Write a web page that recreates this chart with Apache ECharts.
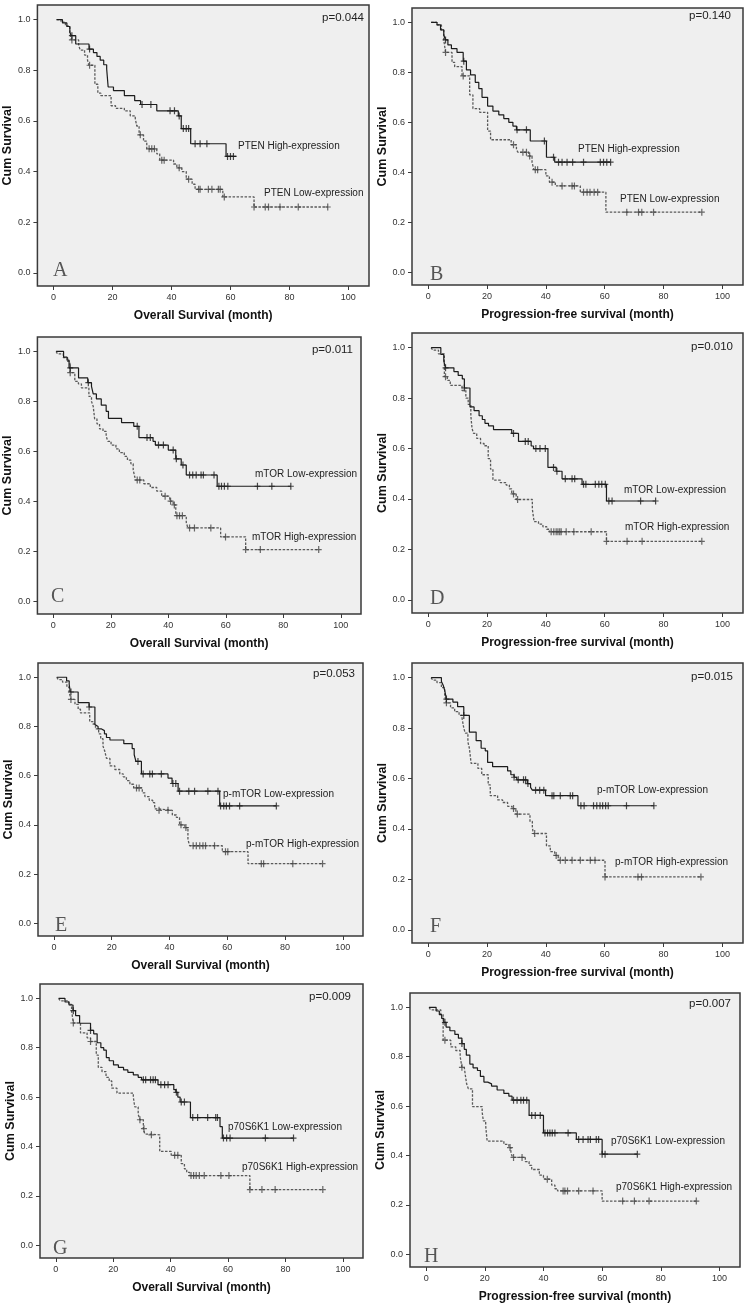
<!DOCTYPE html>
<html><head><meta charset="utf-8">
<script src="https://cdn.jsdelivr.net/npm/echarts@6/dist/echarts.min.js"></script>
<style>html,body{margin:0;padding:0;background:#fff}#c{width:750px;height:1309px}</style>
</head><body><div id="c"></div>
<script>
// ---- tick values ----
const xTicks = [0, 20, 40, 60, 80, 100];
const yTicks = [0, 0.2, 0.4, 0.6, 0.8, 1.0];

// ---- Panel A: PTEN, overall survival ----
const A_high = [[1,1],[3,0.987],[4.5,0.973],[5.5,0.95],[6,0.937],[7.5,0.904],[12,0.884],[13.5,0.87],[14.7,0.855],[15.8,0.84],[17,0.822],[18,0.805],[18.5,0.734],[20.3,0.72],[24,0.70],[27.5,0.68],[29.5,0.665],[35,0.64],[42.3,0.62],[43.3,0.57],[46.5,0.51],[58.5,0.46],[62,0.46]];
const A_highC = [6.2,12.2,30,33,39.5,41,42.6,44,45,45.8,48,49.7,52,59,60,61];
const A_low = [[1,1],[2.5,0.99],[4,0.975],[5.5,0.95],[6,0.92],[8.5,0.90],[9,0.88],[10.5,0.86],[11.5,0.84],[12,0.82],[14,0.745],[15,0.71],[16,0.70],[19.5,0.66],[21,0.65],[24,0.64],[26,0.62],[27.7,0.61],[28.2,0.58],[29,0.545],[30.5,0.52],[31.6,0.49],[35,0.47],[36,0.445],[40.7,0.43],[41.8,0.415],[43.5,0.40],[45,0.37],[47,0.35],[48,0.33],[57.4,0.30],[68,0.26],[93,0.26]];
const A_lowC = [6.2,12.2,29.4,32.4,33.3,34.2,36.7,37.5,42.6,45.8,49.2,49.7,52.5,53.7,55.9,56.5,57.9,68,71.8,72.9,76.8,83,93];

// ---- Panel B: PTEN, progression-free survival ----
const B_high = [[1,1],[3,0.99],[4.2,0.97],[5.3,0.95],[5.9,0.93],[6.7,0.91],[7.9,0.895],[9.8,0.88],[11.9,0.845],[13,0.81],[14.4,0.79],[16,0.76],[17.2,0.735],[18.3,0.70],[20.2,0.665],[22,0.645],[24,0.63],[25.7,0.615],[27.4,0.60],[28.8,0.585],[30,0.57],[34.7,0.525],[40.2,0.46],[43,0.44],[62,0.44]];
const B_highC = [5.9,12.1,30.2,33.4,39.5,42.6,44.3,45.5,47.2,49.1,52.8,58.5,59.6,60.7,62];
const B_low = [[1,1],[3,0.99],[4.5,0.97],[5.3,0.93],[5.9,0.88],[8.1,0.84],[9,0.823],[11.5,0.786],[14.1,0.71],[15.2,0.655],[17.5,0.64],[20.2,0.565],[21.2,0.53],[28.2,0.51],[30,0.49],[30.5,0.48],[34.2,0.465],[35.3,0.44],[35.9,0.41],[40,0.385],[41.2,0.36],[43.2,0.345],[51.7,0.32],[60.4,0.24],[93,0.24]];
const B_lowC = [5.9,11.9,29,32.2,33.4,34.5,36.4,37.2,42.1,45.5,48.9,49.7,52.8,54,55,56.4,57.6,67.5,71.5,72.6,76.6,93];

// ---- Panel C: mTOR, overall survival ----
const C_low = [[1,1],[3.6,0.977],[4.8,0.965],[5.5,0.934],[8.8,0.894],[12,0.875],[13.3,0.86],[13.9,0.83],[15,0.81],[16.7,0.785],[18.4,0.76],[19.2,0.732],[23.75,0.715],[28,0.70],[29.8,0.655],[34.7,0.64],[35.5,0.625],[40,0.605],[42.6,0.57],[44.5,0.545],[46.25,0.505],[57,0.46],[82.6,0.46]];
const C_lowC = [5.9,12.2,29.2,32.6,33.75,36.6,38.3,41.7,42.8,45.1,47.4,48.5,49.7,51.4,52.2,55.9,57.6,58.5,59.5,60.7,71,76,82.6];
const C_high = [[1,1],[1.5,0.99],[3.5,0.975],[5,0.96],[5.8,0.915],[7.5,0.88],[8.75,0.87],[9.8,0.854],[12.4,0.82],[13.3,0.80],[13.9,0.78],[14.4,0.73],[15.2,0.71],[16.1,0.69],[17.3,0.68],[18.4,0.66],[19,0.64],[20.1,0.625],[21.8,0.61],[23,0.595],[24.7,0.58],[25.8,0.565],[27,0.55],[27.8,0.525],[28.3,0.50],[28.6,0.485],[31.5,0.47],[33.75,0.455],[36,0.44],[37.7,0.42],[40.5,0.40],[41.7,0.385],[42.6,0.342],[46.25,0.315],[46.8,0.293],[58.2,0.257],[66.9,0.206],[92.3,0.206]];
const C_highC = [5.9,29.2,30.1,38.9,40.8,42.1,43,43.9,44.9,47.4,49.1,54.8,59.9,66.9,72,92.3];

// ---- Panel D: mTOR, progression-free survival ----
const D_low = [[1,1],[4.3,0.973],[5.3,0.947],[5.9,0.92],[8.75,0.905],[10.2,0.89],[11.6,0.876],[12.3,0.84],[14.2,0.765],[15.6,0.75],[17.3,0.73],[18.4,0.715],[19.3,0.70],[20.5,0.69],[22.2,0.675],[28.4,0.66],[30.7,0.628],[35,0.61],[35.8,0.60],[40.7,0.525],[43.5,0.51],[45.5,0.48],[52.3,0.458],[60.6,0.392],[77.3,0.392]];
const D_lowC = [5.9,12.3,29,33,34,36.6,38,39.8,42.6,43.75,46.6,48.9,49.8,52.8,53.6,56.8,58,59,60.2,61.4,62.5,72.2,77.3];
const D_high = [[1,1],[1.5,0.99],[3.5,0.975],[5.5,0.885],[6.5,0.87],[7.5,0.85],[11.5,0.83],[12.8,0.80],[13.6,0.775],[14.5,0.73],[14.9,0.68],[15.4,0.66],[16.5,0.64],[17.8,0.62],[19,0.611],[20.4,0.56],[21.2,0.518],[22,0.475],[24.5,0.465],[26.5,0.455],[27.6,0.44],[28.4,0.42],[29.9,0.398],[35.4,0.36],[36,0.31],[37.5,0.30],[39,0.29],[40.3,0.28],[41.2,0.27],[60.6,0.232],[93,0.232]];
const D_highC = [5.9,29,30.4,41.8,42.7,43.5,44.1,44.7,45.2,46.9,49.5,55.4,60.6,67.6,72.7,93];

// ---- Panel E: p-mTOR, overall survival ----
const E_low = [[1,1],[4.4,0.985],[5.3,0.97],[5.7,0.94],[8.4,0.897],[12.2,0.879],[14.2,0.808],[14.8,0.80],[15.3,0.79],[16.5,0.783],[17.5,0.77],[18.2,0.755],[19.4,0.745],[24.2,0.73],[27.1,0.71],[27.8,0.685],[28.4,0.658],[30.3,0.607],[39.5,0.59],[40.9,0.568],[43,0.537],[57.4,0.477],[77,0.477]];
const E_lowC = [5.9,12.2,29.1,30.9,33.2,34.1,37.2,41.2,42.2,43.5,46.7,48.7,53.3,56.8,57.7,58.8,59.7,60.8,64.3,77];
const E_high = [[1,1],[1.5,0.99],[3,0.98],[4.5,0.96],[5.3,0.94],[5.9,0.91],[7.3,0.89],[8.4,0.87],[9.2,0.855],[12.4,0.82],[13.5,0.81],[14.4,0.79],[15.5,0.77],[16.2,0.75],[17,0.72],[17.6,0.70],[18.2,0.67],[19.4,0.64],[21.1,0.625],[22.8,0.607],[24,0.595],[25.1,0.58],[26.3,0.565],[27.6,0.55],[30.6,0.53],[31.5,0.515],[33,0.50],[34.2,0.49],[34.9,0.465],[35.8,0.459],[41,0.44],[42.4,0.43],[43.5,0.40],[45.3,0.389],[46.4,0.34],[47,0.315],[58.3,0.291],[67.2,0.242],[93,0.242]];
const E_highC = [5.9,28.6,29.5,36.4,39.5,44,45.7,48.2,49.3,50.5,51.6,52.5,55.6,59.4,60.2,71.8,72.6,82.7,93];

// ---- Panel F: p-mTOR, progression-free survival ----
const F_low = [[1,1],[4.5,0.985],[5.1,0.97],[5.6,0.95],[6.2,0.915],[8.4,0.903],[10,0.885],[12.1,0.85],[14,0.784],[16.3,0.75],[18,0.72],[19.4,0.71],[20.2,0.664],[21.9,0.647],[27,0.63],[28.1,0.615],[29.2,0.605],[30.1,0.595],[33.7,0.58],[34.8,0.565],[35.4,0.554],[39.9,0.532],[50.9,0.492],[76.7,0.492]];
const F_lowC = [6.2,12.1,29.2,30.6,32.4,33.1,33.9,36.5,37.9,39.3,42.1,42.7,44.9,48.3,49.1,51.9,53,56.2,57.3,58.4,59.3,60.3,61.2,67.4,76.7];
const F_high = [[1,1],[1.5,0.99],[3,0.98],[4.5,0.96],[5.6,0.93],[6.2,0.90],[7.6,0.88],[9,0.865],[10.5,0.85],[11.5,0.84],[12.1,0.80],[12.6,0.78],[13.5,0.745],[14,0.72],[14.6,0.66],[16.9,0.64],[18.2,0.615],[20.4,0.575],[21.1,0.532],[23.6,0.515],[25.3,0.505],[27,0.49],[28.5,0.481],[29.8,0.459],[34.6,0.43],[35.4,0.41],[35.7,0.382],[40.2,0.333],[41.5,0.31],[43,0.295],[44.2,0.276],[60.1,0.21],[92.7,0.21]];
const F_highC = [6.2,29,30.3,36.2,43.5,44.9,46.6,48.9,51.7,55.1,56.7,60.1,71.3,72.5,92.7];

// ---- Panel G: p70S6K1, overall survival ----
const G_low = [[1,1],[3.2,0.985],[4.6,0.973],[6,0.95],[6.9,0.93],[8.3,0.899],[12.1,0.87],[13.2,0.856],[14.4,0.82],[15.7,0.80],[16.7,0.79],[17.6,0.76],[18.6,0.747],[20.1,0.73],[21.8,0.72],[23.6,0.71],[25.1,0.70],[27,0.69],[28.7,0.68],[29.9,0.67],[35.6,0.65],[41.1,0.63],[41.8,0.619],[42.5,0.60],[43.3,0.58],[46.9,0.517],[57.2,0.48],[58,0.434],[82.8,0.434]];
const G_lowC = [6.1,12.1,30.5,31.3,33,33.9,34.7,36.6,37.9,39.1,42,43.7,44.8,47.7,49.4,52.9,55.7,56.3,58.4,59.5,60.7,73,82.8];
const G_high = [[1,1],[1.5,0.99],[4.5,0.975],[5.5,0.95],[6.1,0.90],[8.6,0.86],[10.9,0.84],[12.1,0.825],[14.1,0.77],[14.8,0.72],[16.1,0.703],[17.5,0.68],[18.6,0.665],[19.5,0.636],[21.3,0.616],[27,0.60],[27.5,0.56],[28.7,0.53],[29.3,0.508],[30.5,0.472],[31,0.45],[32.8,0.447],[36.2,0.38],[40.2,0.364],[43.7,0.33],[44.8,0.309],[45.6,0.295],[46.6,0.282],[67.6,0.225],[93,0.225]];
const G_highC = [6.1,12.1,29.3,30.7,33.3,41.4,42.5,47.1,48,48.9,50,51.7,57.5,60.3,67.6,71.8,76.4,93];

// ---- Panel H: p70S6K1, progression-free survival ----
const H_low = [[1,1],[3.4,0.985],[4.5,0.97],[5.3,0.955],[6,0.939],[6.8,0.92],[8.1,0.905],[9.8,0.89],[11,0.875],[12.2,0.853],[13,0.83],[13.7,0.806],[14.9,0.77],[16,0.755],[17.5,0.744],[18.5,0.72],[19.7,0.697],[21,0.69],[22.3,0.681],[24.2,0.665],[26.5,0.651],[28.2,0.64],[29.3,0.624],[35.1,0.562],[40,0.491],[51.2,0.465],[60,0.405],[72,0.405]];
const H_lowC = [6.4,12.2,29.8,31,32.3,33.2,34.3,36,37.2,38.9,40.5,41.4,42.2,43,43.9,48.4,52,53.5,55.2,56,58,58.8,60,61,72];
const H_high = [[1,1],[1.5,0.99],[5,0.97],[5.8,0.867],[8.4,0.84],[10.1,0.825],[11.6,0.80],[12.2,0.757],[13,0.75],[13.3,0.73],[13.8,0.69],[14.4,0.67],[15.8,0.598],[19.1,0.575],[19.5,0.54],[20.3,0.52],[20.8,0.458],[26.5,0.445],[28.2,0.432],[28.9,0.41],[29.5,0.392],[33.8,0.375],[35.1,0.36],[36,0.343],[38.6,0.32],[40,0.305],[41.3,0.303],[42.8,0.28],[43.9,0.265],[44.8,0.256],[60,0.215],[92.1,0.215]];
const H_highC = [6.4,12.2,28.6,29.8,32.7,41.3,46.7,47.3,48.2,52,56.9,67,71,76,92.1];

// ---- texts ----
const xTitles = ['Overall Survival (month)','Progression-free survival (month)'];
const yTitle = 'Cum Survival';
const pValues = ['p=0.044','p=0.140','p=0.011','p=0.010','p=0.053','p=0.015','p=0.009','p=0.007'];
const letters = ['A','B','C','D','E','F','G','H'];
const solidLabels = ['PTEN High-expression','PTEN High-expression','mTOR Low-expression','mTOR Low-expression','p-mTOR Low-expression','p-mTOR Low-expression','p70S6K1 Low-expression','p70S6K1 Low-expression'];
const dashLabels = ['PTEN Low-expression','PTEN Low-expression','mTOR High-expression','mTOR High-expression','p-mTOR High-expression','p-mTOR High-expression','p70S6K1 High-expression','p70S6K1 High-expression'];
const solidCurves = [A_high,B_high,C_low,D_low,E_low,F_low,G_low,H_low];
const solidCens = [A_highC,B_highC,C_lowC,D_lowC,E_lowC,F_lowC,G_lowC,H_lowC];
const dashCurves = [A_low,B_low,C_high,D_high,E_high,F_high,G_high,H_high];
const dashCens = [A_lowC,B_lowC,C_highC,D_highC,E_highC,F_highC,G_highC,H_highC];

// ---- layout (pixels) ----
const layout = [
  {g:[37,5,332,281],   p:[364,18],  s:[238,146], d:[264,193], L:[53,271]},
  {g:[412,8,331,277],  p:[731,16],  s:[578,149], d:[620,199], L:[430,275]},
  {g:[35,337,326,277], p:[353,350], s:[255,474], d:[252,537], L:[51,597]},
  {g:[412,333,331,280],p:[733,347], s:[624,490], d:[625,527], L:[430,599]},
  {g:[38,663,325,273], p:[355,674], s:[223,794], d:[246,844], L:[55,926]},
  {g:[412,663,331,280],p:[733,677], s:[597,790], d:[615,862], L:[430,927]},
  {g:[40,984,323,274], p:[351,997], s:[228,1127],d:[242,1167],L:[53,1249]},
  {g:[410,993,330,274],p:[731,1004],s:[611,1141],d:[616,1187],L:[424,1257]}
];

function survAt(curve, t){
  let s = curve[0][1];
  for (const [tt, v] of curve){ if (tt <= t + 1e-9) s = v; else break; }
  return s;
}
const plus = 'path://M-0.6,-3.5L0.6,-3.5L0.6,3.5L-0.6,3.5ZM-3,-0.6L3,-0.6L3,0.6L-3,0.6Z';
const SOLID = '#1c1c1c', DASH = '#5a5a5a';
const FONT = 'Liberation Sans, Arial, sans-serif';

const grids=[], xAxes=[], yAxes=[], series=[], graphic=[];
for (let i=0;i<8;i++){
  const lay = layout[i];
  grids.push({left:lay.g[0], top:lay.g[1], width:lay.g[2], height:lay.g[3], show:true,
    backgroundColor:'#efefef', borderColor:'#3a3a3a', borderWidth:1.5, containLabel:false});
  xAxes.push({type:'value', gridIndex:i, min:-5.5, max:107, position:'bottom',
    axisLine:{show:false, onZero:false}, splitLine:{show:false},
    axisTick:{show:true, customValues:xTicks, length:4, inside:false, lineStyle:{color:'#3a3a3a', width:1}},
    axisLabel:{customValues:xTicks, fontSize:9, color:'#333', margin:7, fontFamily:FONT},
    name:xTitles[i%2], nameLocation:'middle', nameGap:24,
    nameTextStyle:{fontSize:12, fontWeight:'bold', color:'#111', fontFamily:FONT}});
  yAxes.push({type:'value', gridIndex:i, min:-0.052, max:1.058, position:'left',
    axisLine:{show:false, onZero:false}, splitLine:{show:false},
    axisTick:{show:true, customValues:yTicks, length:4, inside:false, lineStyle:{color:'#3a3a3a', width:1}},
    axisLabel:{customValues:yTicks, fontSize:9, color:'#333', margin:7, fontFamily:FONT,
      formatter:(v)=>Number(v).toFixed(1)},
    name:yTitle, nameLocation:'middle', nameGap:23, nameRotate:90,
    nameTextStyle:{fontSize:12.5, fontWeight:'bold', color:'#111', fontFamily:FONT}});
  series.push({type:'line', xAxisIndex:i, yAxisIndex:i, step:'end', showSymbol:false, symbol:'none',
    data:dashCurves[i], lineStyle:{color:DASH, width:1.3, type:[2.5,1.5]}, z:3, silent:true});
  series.push({type:'line', xAxisIndex:i, yAxisIndex:i, step:'end', showSymbol:false, symbol:'none',
    data:solidCurves[i], lineStyle:{color:SOLID, width:1.2, type:'solid'}, z:4, silent:true});
  series.push({type:'scatter', xAxisIndex:i, yAxisIndex:i, symbol:plus, symbolSize:[6,7],
    data:dashCens[i].map(t=>[t, survAt(dashCurves[i], t)]), itemStyle:{color:'#444'}, z:5, silent:true});
  series.push({type:'scatter', xAxisIndex:i, yAxisIndex:i, symbol:plus, symbolSize:[6,7],
    data:solidCens[i].map(t=>[t, survAt(solidCurves[i], t)]), itemStyle:{color:SOLID}, z:6, silent:true});
  graphic.push({type:'text', x:lay.p[0], y:lay.p[1], z:10,
    style:{text:pValues[i], fill:'#222', font:'11.5px '+FONT, textAlign:'right', textVerticalAlign:'middle'}});
  graphic.push({type:'text', x:lay.s[0], y:lay.s[1], z:10,
    style:{text:solidLabels[i], fill:'#222', font:'10px '+FONT, textAlign:'left', textVerticalAlign:'middle'}});
  graphic.push({type:'text', x:lay.d[0], y:lay.d[1], z:10,
    style:{text:dashLabels[i], fill:'#222', font:'10px '+FONT, textAlign:'left', textVerticalAlign:'middle'}});
  graphic.push({type:'text', x:lay.L[0], y:lay.L[1], z:10,
    style:{text:letters[i], fill:'#555', font:'20px Liberation Serif, DejaVu Serif, serif', textAlign:'left', textVerticalAlign:'middle'}});
}

const chart = echarts.init(document.getElementById('c'), null, {renderer:'canvas'});
chart.setOption({animation:false, backgroundColor:'#fff', grid:grids, xAxis:xAxes, yAxis:yAxes, series:series, graphic:graphic});
</script>
</body></html>
